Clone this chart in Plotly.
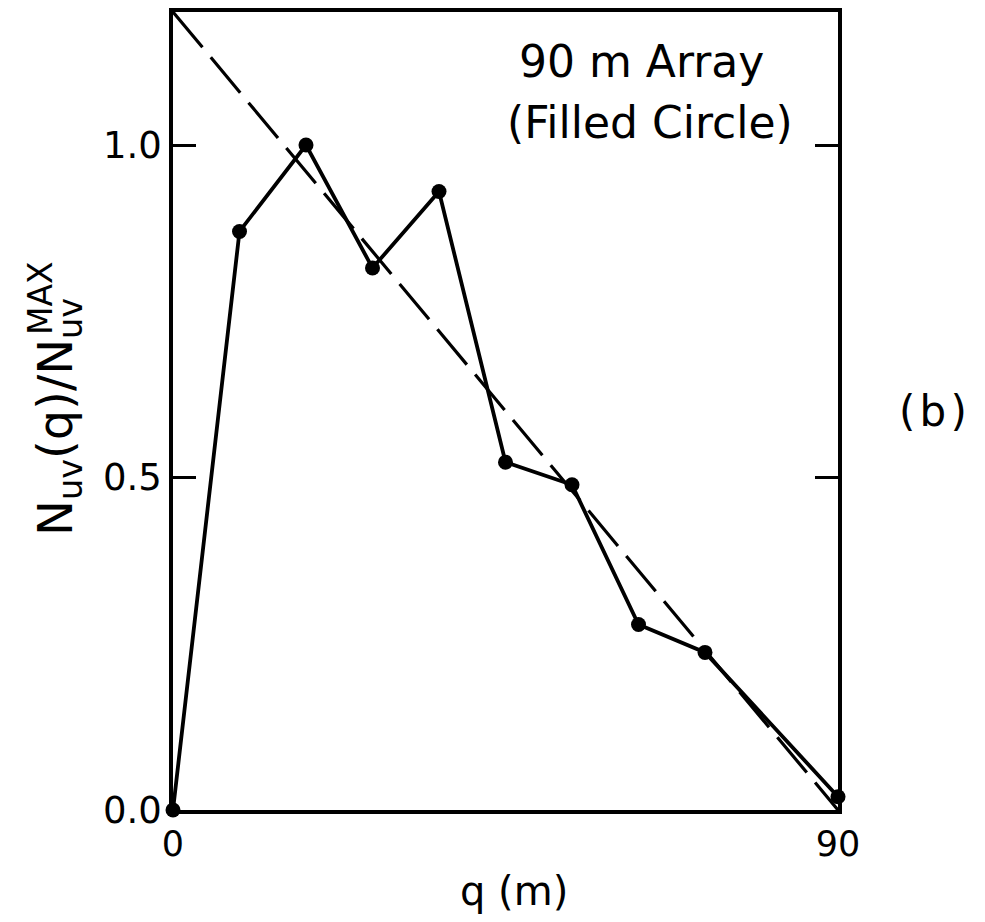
import plotly.graph_objects as go

q_m = [0, 9, 18, 27, 36, 45, 54, 63, 72, 90]
n_ratio = [0.0, 0.87, 1.0, 0.815, 0.93, 0.523, 0.489, 0.279, 0.237, 0.02]
dash_q = [0, 90]
dash_n = [1.2, 0.0]
y_ticks = [0.0, 0.5, 1.0]
y_ticktext = ["0.0", "0.5", "1.0"]
x_ticks = [0, 90]
x_ticktext = ["0", "90"]

FONT = "DejaVu Sans"

fig = go.Figure()
fig.add_trace(go.Scatter(x=dash_q, y=dash_n, mode="lines",
                         line=dict(color="black", width=3.2, dash="46px,13px"),
                         cliponaxis=False, showlegend=False, hoverinfo="skip"))
fig.add_trace(go.Scatter(x=q_m, y=n_ratio, mode="lines+markers",
                         line=dict(color="black", width=3.8),
                         marker=dict(color="black", size=15),
                         cliponaxis=False, showlegend=False))

fig.update_layout(
    width=969, height=906,
    margin=dict(l=165, r=139, t=4, b=104, autoexpand=False),
    paper_bgcolor="white", plot_bgcolor="white",
    font=dict(family=FONT, color="black", size=36),
    xaxis=dict(range=[0, 90], tickvals=x_ticks, ticktext=x_ticktext,
               ticks="", showgrid=False, zeroline=False, automargin=False,
               showline=True, linecolor="black", linewidth=3.5, mirror=True,
               tickfont=dict(size=35)),
    yaxis=dict(range=[0, 1.2], tickvals=y_ticks, ticktext=y_ticktext,
               ticks="inside", ticklen=23, tickwidth=3, tickcolor="black",
               showgrid=False, zeroline=False, automargin=False,
               showline=True, linecolor="black", linewidth=3.5, mirror="ticks",
               tickfont=dict(size=37)),
    annotations=[
        dict(text="90 m Array", x=0.704, y=0.938, xref="paper", yref="paper",
             showarrow=False, font=dict(size=44), xanchor="center", yanchor="middle"),
        dict(text="(Filled Circle)", x=0.717, y=0.862, xref="paper", yref="paper",
             showarrow=False, font=dict(size=44), xanchor="center", yanchor="middle"),
        dict(text="(\u200ab\u200a)", x=1.143, y=0.5, xref="paper", yref="paper",
             showarrow=False, font=dict(size=42), xanchor="center", yanchor="middle"),
        dict(text="q (m)", x=0.513, y=-0.1015, xref="paper", yref="paper",
             showarrow=False, font=dict(size=40), xanchor="center", yanchor="middle"),
        dict(text="N<sub>uv</sub>(q)/N<sub>uv</sub>", x=-0.172, y=0.492,
             xref="paper", yref="paper", textangle=-90,
             showarrow=False, font=dict(size=48), xanchor="center", yanchor="middle"),
        dict(text="MAX", x=-0.2, y=0.6416, xref="paper", yref="paper", textangle=-90,
             showarrow=False, font=dict(size=33), xanchor="center", yanchor="middle"),
    ],
)

fig.write_html("out.html")
